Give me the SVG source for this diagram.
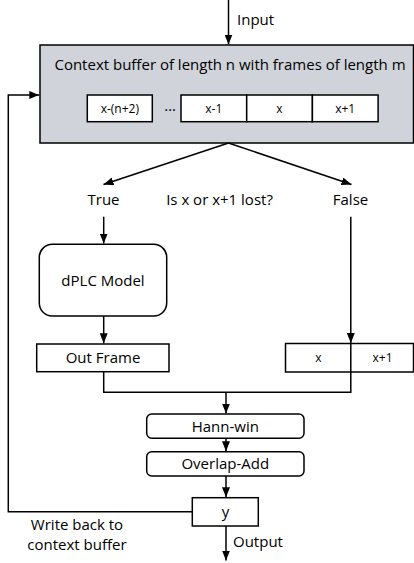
<svg xmlns="http://www.w3.org/2000/svg" width="414" height="563" viewBox="0 0 414 563">
<style>
text{font-family:"Open Sans","Liberation Sans",sans-serif;fill:#000}
.l{font-size:15px}
.s{font-size:12px}
.m{text-anchor:middle}
.box{fill:#fff;stroke:#000;stroke-width:1.5}
.ln{fill:none;stroke:#000;stroke-width:1.5}
</style>
<defs>
<marker id="ah" markerWidth="10" markerHeight="8" refX="10" refY="4" orient="auto" markerUnits="userSpaceOnUse">
<path d="M0,0 L10,4 L0,8 Z" fill="#000"/>
</marker>
</defs>
<g id="context-buffer">
<rect x="40" y="45" width="373.5" height="98" fill="#d0d4da" stroke="#000" stroke-width="1.5"/>
<text class="l m" x="230" y="70">Context buffer of length n with frames of length m</text>
<rect class="box" x="87.3" y="95" width="65" height="26.7"/>
<text class="s m" x="119.8" y="113">x-(n+2)</text>
<text class="l m" x="170" y="111">…</text>
<rect class="box" x="181" y="95" width="65.7" height="26.7"/>
<text class="s m" x="213.8" y="113">x-1</text>
<rect class="box" x="246.7" y="95" width="65.7" height="26.7"/>
<text class="s m" x="279.5" y="113">x</text>
<rect class="box" x="312.4" y="95" width="65.7" height="26.7"/>
<text class="s m" x="345.2" y="113">x+1</text>
</g>
<g id="labels">
<text class="l" x="237" y="25">Input</text>
<text class="l m" x="103.5" y="205">True</text>
<text class="l m" x="219.5" y="205">Is x or x+1 lost?</text>
<text class="l m" x="350.5" y="205">False</text>
<text class="l" x="233" y="546.5">Output</text>
<text class="l m" x="77" y="530">Write back to</text>
<text class="l m" x="77" y="550">context buffer</text>
</g>
<g id="dplc-model">
<rect class="box" x="39.3" y="244.3" width="127.4" height="71.7" rx="13"/>
<text class="l m" x="103" y="286">dPLC Model</text>
</g>
<g id="out-frame">
<rect class="box" x="36.7" y="344" width="132.3" height="27.7"/>
<text class="l m" x="103" y="362.7">Out Frame</text>
</g>
<g id="frames-x">
<rect class="box" x="285.5" y="343.5" width="128" height="28.5"/>
<text class="s m" x="318.5" y="362">x</text>
<text class="s m" x="382.5" y="362">x+1</text>
</g>
<g id="hann-win">
<rect class="box" x="146.7" y="414" width="157.3" height="24.3" rx="5"/>
<text class="l m" x="225.3" y="431.7">Hann-win</text>
</g>
<g id="overlap-add">
<rect class="box" x="146.7" y="451.7" width="157.3" height="24.3" rx="5"/>
<text class="l m" x="225.3" y="469">Overlap-Add</text>
</g>
<g id="y">
<rect class="box" x="192.3" y="497.7" width="66" height="28.3"/>
<text class="l m" x="225.5" y="516.5">y</text>
</g>
<g id="connectors">
<line class="ln" x1="228.5" y1="0" x2="228.5" y2="44.5" marker-end="url(#ah)"/>
<line class="ln" x1="228.5" y1="143" x2="103.5" y2="184.5" marker-end="url(#ah)"/>
<line class="ln" x1="228.5" y1="143" x2="351.5" y2="184.5" marker-end="url(#ah)"/>
<line class="ln" x1="103.7" y1="216.7" x2="103.7" y2="243.5" marker-end="url(#ah)"/>
<line class="ln" x1="103.7" y1="316" x2="103.7" y2="343.3" marker-end="url(#ah)"/>
<line class="ln" x1="350.8" y1="216.7" x2="350.8" y2="343" marker-end="url(#ah)"/>
<line class="ln" x1="350.8" y1="343" x2="350.8" y2="372"/>
<polyline class="ln" points="103.7,371.7 103.7,392.3 350.8,392.3 350.8,372"/>
<line class="ln" x1="226" y1="392.3" x2="226" y2="413.5" marker-end="url(#ah)"/>
<line class="ln" x1="226" y1="438.3" x2="226" y2="451.2" marker-end="url(#ah)"/>
<line class="ln" x1="226" y1="476" x2="226" y2="497.2" marker-end="url(#ah)"/>
<line class="ln" x1="226" y1="526" x2="226" y2="560.5" marker-end="url(#ah)"/>
<polyline class="ln" points="192.3,511.7 8.3,511.7 8.3,95 39.3,95" marker-end="url(#ah)"/>
</g>
</svg>
